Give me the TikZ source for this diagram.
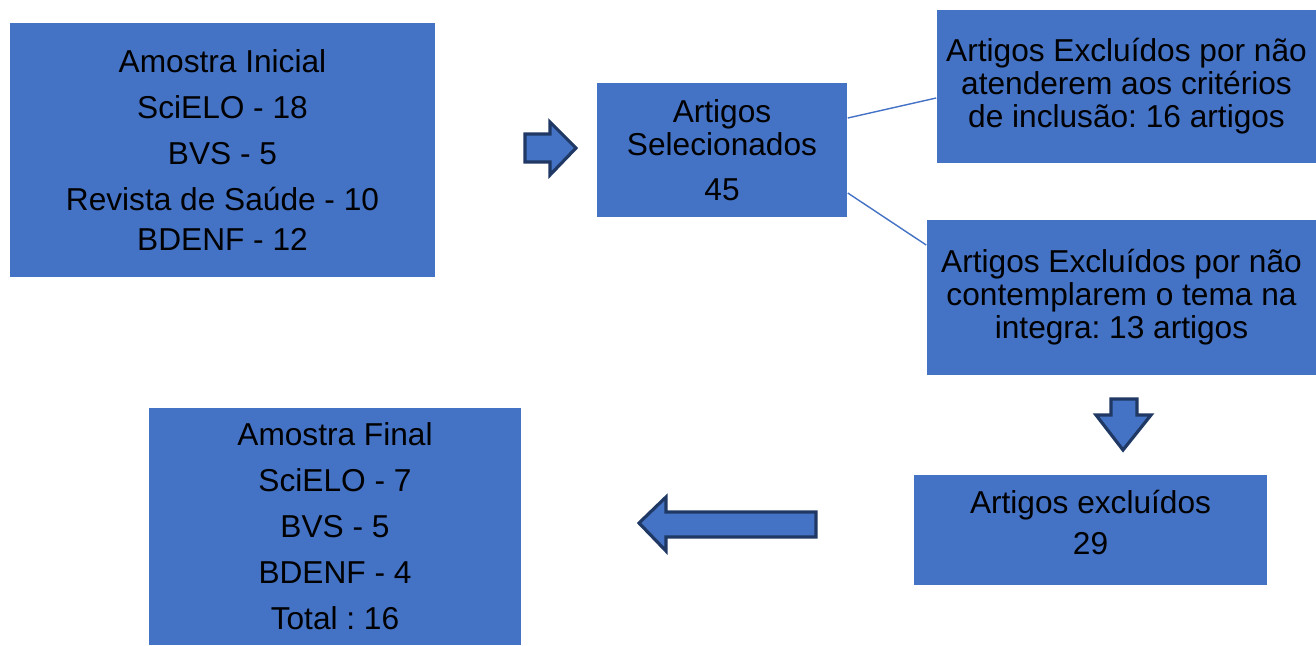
\documentclass[tikz,border=0pt]{standalone}
\usepackage{fontspec}
\setmainfont{Liberation Sans}
\frenchspacing
\definecolor{boxblue}{HTML}{4472C4}
\definecolor{arrowedge}{HTML}{1F3864}
\tikzset{
  box/.style={fill=boxblue, draw=none, align=center, inner sep=0pt, font=\fontsize{9}{9.4}\selectfont},
  blockarrow/.style={fill=boxblue, draw=arrowedge, line width=0.9pt, line join=miter},
}
\begin{document}
\begin{tikzpicture}[x=0.01cm, y=-0.01cm]
\useasboundingbox (0,0) rectangle (1316,645);

\node[box, minimum width=4.25cm, minimum height=2.54cm] (ini) at (222.5,150) {Amostra Inicial\\[3.7pt]SciELO - 18\\[3.7pt]BVS - 5\\[3.7pt]Revista de Saúde - 10\\[2pt]BDENF - 12};
\node[box, minimum width=2.5cm, minimum height=1.34cm] (sel) at (722,150) {Artigos\\Selecionados\\[3.4pt]45};

\node[box, minimum width=3.79cm, minimum height=1.53cm] (crit) at (1126.5,86.5) {Artigos Excluídos por não\\atenderem aos critérios\\de inclusão: 16 artigos};
\node[box, minimum width=3.89cm, minimum height=1.55cm] (tema) at (1121.5,297.5) {Artigos Excluídos por não\\contemplarem o tema na\\integra: 13 artigos};

\node[box, minimum width=3.53cm, minimum height=1.10cm] (excl) at (1090.5,530) {Artigos excluídos\\[2.3pt]29\\[-5pt]\mbox{}};
\node[box, minimum width=3.72cm, minimum height=2.37cm] (fin) at (335,526.5) {Amostra Final\\[3.7pt]SciELO - 7\\[3.7pt]BVS - 5\\[3.7pt]BDENF - 4\\[3.7pt]Total : 16};

\draw[boxblue, line width=0.4pt] (sel.east |- 0,118) -- (crit.west |- 0,98);
\draw[boxblue, line width=0.4pt] (sel.east |- 0,193) -- (tema.west |- 0,245);

% block arrows
\draw[blockarrow] (525,134) -- (550,134) -- (550,122) -- (576,148) -- (550,175) -- (550,162) -- (525,162) -- cycle;
\draw[blockarrow] (1111,399) -- (1137,399) -- (1137,415) -- (1151,415) -- (1123,450) -- (1096,415) -- (1111,415) -- cycle;
\draw[blockarrow] (816,512) -- (666,512) -- (666,497) -- (639,523) -- (666,551) -- (666,537) -- (816,537) -- cycle;
\end{tikzpicture}
\end{document}
